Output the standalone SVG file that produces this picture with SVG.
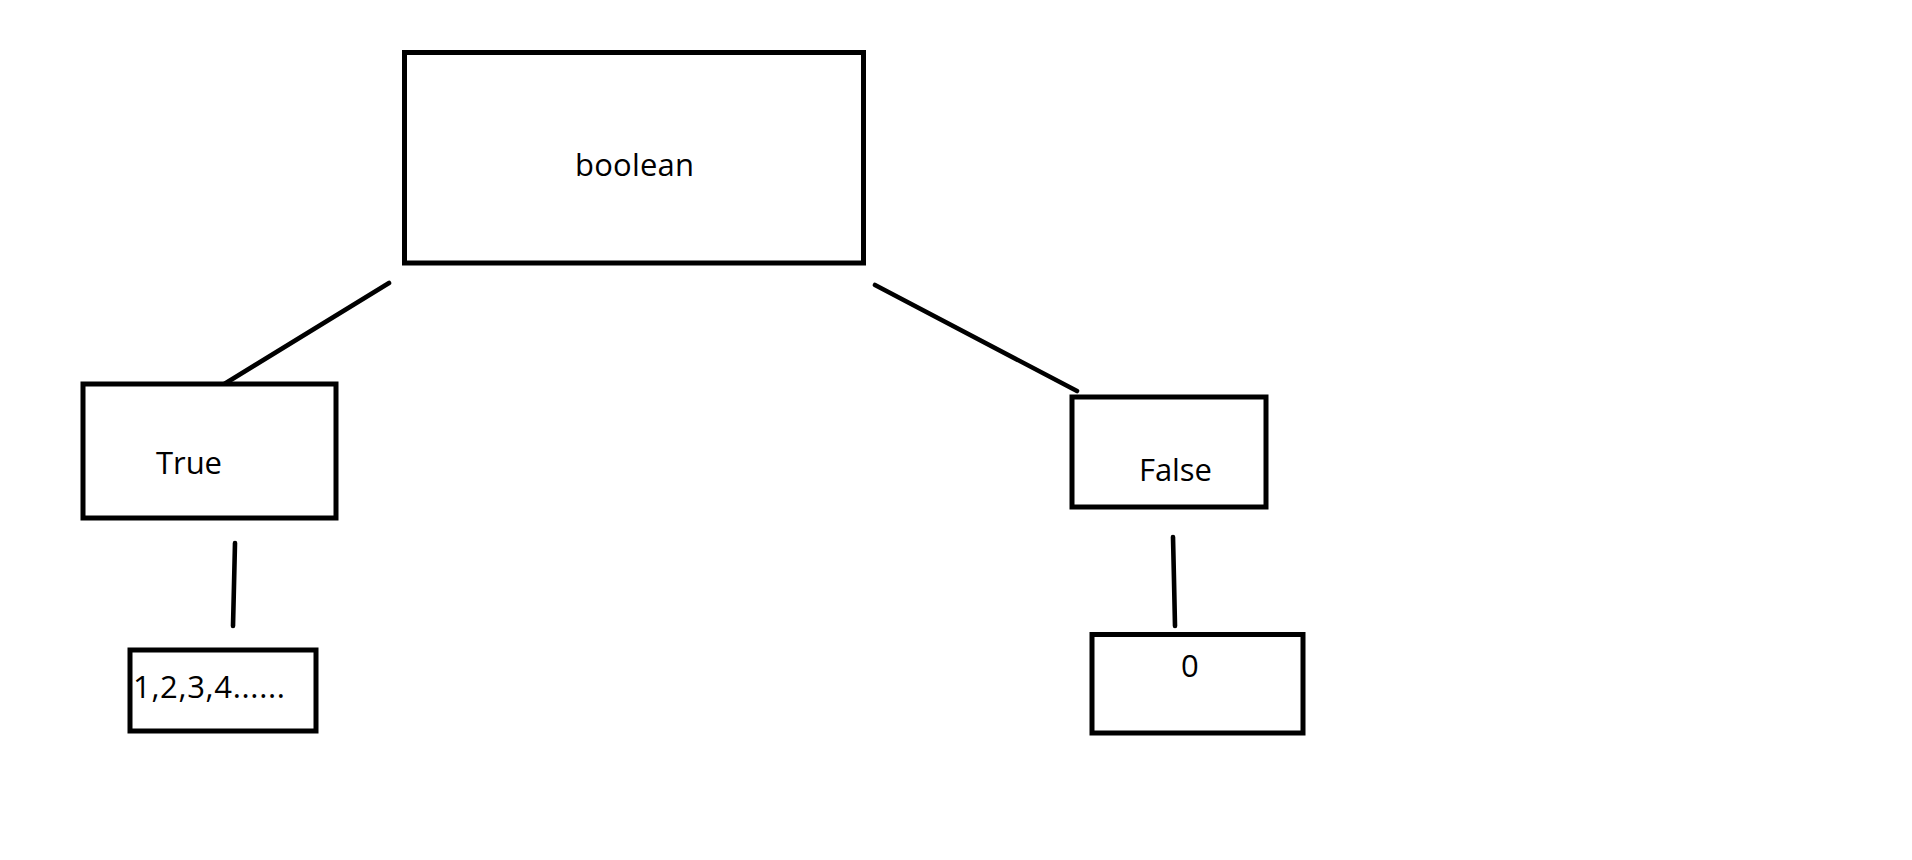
<svg xmlns="http://www.w3.org/2000/svg" width="1912" height="860" viewBox="0 0 1912 860">
<style>
.box{fill:#fff;stroke:#000;stroke-width:5}
.lbl{font-family:"Open Sans","Noto Sans","Liberation Sans",sans-serif;font-size:31px;fill:#000}
.con{stroke:#000;stroke-width:4.6;stroke-linecap:round;fill:none}
</style>
<rect width="1912" height="860" fill="#fff"/>
<g id="connectors">
<line class="con" x1="389" y1="283" x2="221" y2="386"/>
<line class="con" x1="875" y1="285" x2="1077" y2="391"/>
<polyline class="con" points="235,543 234,585 233,626"/>
<polyline class="con" points="1173,537 1174,580 1175,626"/>
</g>
<g id="node-boolean">
<rect class="box" x="404.5" y="52.5" width="459" height="210.5"/>
<text class="lbl" x="575" y="176" textLength="119" lengthAdjust="spacing">boolean</text>
</g>
<g id="node-true">
<rect class="box" x="83" y="384" width="253" height="134"/>
<text class="lbl" x="156" y="474" textLength="66" lengthAdjust="spacing">True</text>
</g>
<g id="node-false">
<rect class="box" x="1072" y="397" width="194" height="110"/>
<text class="lbl" x="1139" y="481" textLength="73" lengthAdjust="spacing">False</text>
</g>
<g id="node-numbers">
<rect class="box" x="130" y="650" width="186" height="81"/>
<text class="lbl" x="133" y="698" textLength="152" lengthAdjust="spacing">1,2,3,4......</text>
</g>
<g id="node-zero">
<rect class="box" x="1092" y="634.5" width="211" height="98.5"/>
<text class="lbl" x="1181" y="677">0</text>
</g>
</svg>
